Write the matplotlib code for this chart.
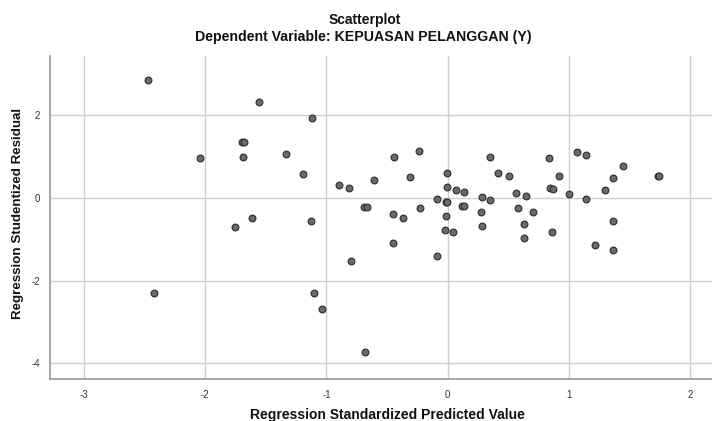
import matplotlib
matplotlib.use("Agg")
import matplotlib.pyplot as plt

plt.rcParams['font.family'] = ['Liberation Sans', 'DejaVu Sans']

predicted = [
    -2.47, -1.555, -1.118, -1.692, -1.678, -2.046, -1.687, -1.337, -1.192, -0.895,
    -0.813, -0.609, -0.686, -0.665, -1.61, -1.753, -1.126, -0.799, -2.42, -1.106,
    -1.035, -0.683, -0.444, -0.233, -0.307, -0.007, -0.007, 0.067, 0.135, -0.085,
    -0.01, -0.005, 0.116, 0.135, -0.228, -0.45, -0.37, -0.013, -0.02, 0.048,
    -0.45, -0.085, 0.347, 0.416, 0.504, 0.287, 0.347, 0.564, 0.646, 0.279,
    0.287, 0.578, 0.707, 0.627, 0.633, 0.839, 0.922, 0.844, 0.866, 1.0,
    0.864, 1.064, 1.138, 1.138, 1.446, 1.364, 1.295, 1.364, 1.213, 1.364,
    1.738, 1.742,
]
residual = [
    2.86, 2.32, 1.92, 1.36, 1.36, 0.968, 0.99, 1.057, 0.58, 0.315,
    0.25, 0.42, -0.22, -0.23, -0.475, -0.71, -0.548, -1.53, -2.29, -2.29,
    -2.69, -3.73, 0.977, 1.14, 0.51, 0.605, 0.26, 0.195, 0.13, -0.02,
    -0.09, -0.1, -0.2, -0.2, -0.25, -0.40, -0.475, -0.43, -0.77, -0.83,
    -1.10, -1.41, 0.99, 0.59, 0.525, 0.01, -0.04, 0.12, 0.05, -0.33,
    -0.68, -0.24, -0.345, -0.63, -0.98, 0.96, 0.525, 0.235, 0.21, 0.097,
    -0.83, 1.105, 1.03, -0.02, 0.775, 0.49, 0.2, -0.556, -1.13, -1.26,
    0.525, 0.52,
]

x_ticks = [-3, -2, -1, 0, 1, 2]
y_ticks = [2, 0, -2, -4]

fig = plt.figure(figsize=(7.12, 4.21), dpi=100)
ax = fig.add_axes([50/712, 1 - 379/421, 1 - 50/712 + 0.01, (379 - 56)/421])

ax.set_xlim(-3.28, 2.24)
ax.set_ylim(-4.38, 3.43)
ax.set_xticks(x_ticks)
ax.set_yticks(y_ticks)
ax.set_xticklabels([str(t) for t in x_ticks], fontsize=7, color='#333333')
ax.set_yticklabels([str(t) for t in y_ticks], fontsize=7, color='#333333')
ax.tick_params(axis='x', length=0, pad=8)
ax.tick_params(axis='y', length=0, pad=7)

ax.grid(True, color='#cfcfcf', linewidth=1.0)
ax.set_axisbelow(True)
for s in ['top', 'right']:
    ax.spines[s].set_visible(False)
for s in ['left', 'bottom']:
    ax.spines[s].set_color('#9a9a9a')
    ax.spines[s].set_linewidth(1.2)

ax.scatter(predicted, residual, s=24, facecolor='#6a6a6a', edgecolor='#2e2e2e',
           linewidth=0.8, zorder=3)

fig.text(365/712, 1 - 24/421, 'Scatterplot', ha='center', va='baseline',
         fontsize=10, fontweight='bold', color='#111111')
fig.text(363/712, 1 - 41/421, 'Dependent Variable: KEPUASAN PELANGGAN (Y)',
         ha='center', va='baseline', fontsize=10.2, fontweight='bold', color='#111111')
fig.text(387/712, 1 - 419/421, 'Regression Standardized Predicted Value',
         ha='center', va='baseline', fontsize=10, fontweight='bold', color='#111111')
fig.text(24/712, 1 - 213/421, 'Regression Studentized Residual', rotation=90,
         ha='right', va='center', fontsize=9.6, fontweight='bold', color='#111111')

fig.savefig('out.png', dpi=100)
